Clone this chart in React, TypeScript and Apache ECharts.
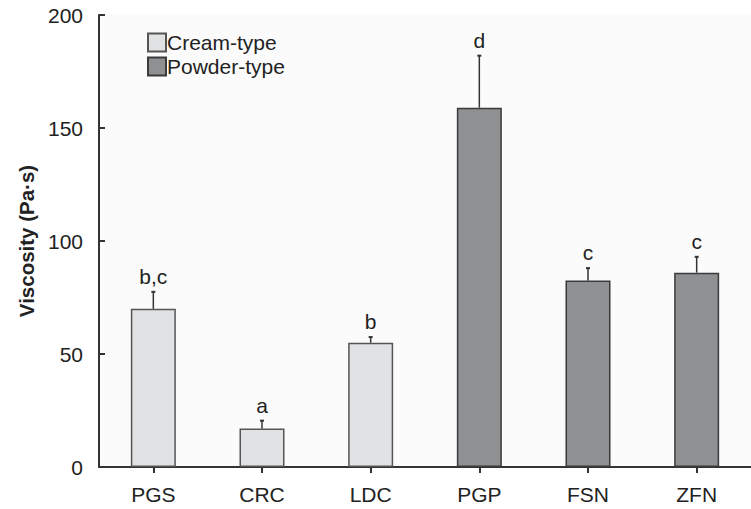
import React, { useEffect, useRef } from "react";
import * as echarts from "echarts";

const categories = ["PGS", "CRC", "LDC", "PGP", "FSN", "ZFN"];
const creamValues = [70, 17, 55, null, null, null];
const powderValues = [null, null, null, 159, 82.5, 86];
const errorTops = [77.5, 20.5, 57.5, 182, 88, 93];
const letters = ["b,c", "a", "b", "d", "c", "c"];
const yTicks = [0, 50, 100, 150, 200];

const FONT = '"Liberation Sans", Arial, Helvetica, sans-serif';

export default function App() {
  const ref = useRef<HTMLDivElement>(null);

  useEffect(() => {
    if (!ref.current) return;
    const chart = echarts.init(ref.current, null, { renderer: "svg" });
    const means = categories.map((_, i) => (creamValues[i] ?? powderValues[i]) as number);
    const errData = categories.map((_, i) => [i, means[i], errorTops[i]]);

    chart.setOption({
      animation: false,
      backgroundColor: "#ffffff",
      textStyle: { fontFamily: FONT },
      grid: {
        left: 99,
        top: 15,
        width: 663,
        height: 452,
        show: true,
        backgroundColor: "#fbfbfb",
        borderWidth: 0,
      },
      legend: {
        left: 142,
        top: 27,
        orient: "vertical",
        icon: "rect",
        itemWidth: 18,
        itemHeight: 18,
        itemGap: 3,
        textStyle: {
          fontSize: 21,
          lineHeight: 19,
          color: "#222",
          fontFamily: FONT,
          padding: [0, 0, 0, -4],
        },
        data: ["Cream-type", "Powder-type"],
      },
      xAxis: {
        type: "category",
        data: categories,
        boundaryGap: true,
        axisLine: { lineStyle: { color: "#333", width: 2 } },
        axisTick: { show: true, alignWithLabel: true, length: 6, lineStyle: { color: "#333", width: 2 } },
        axisLabel: { color: "#222", fontSize: 21, margin: 17, fontFamily: FONT },
      },
      yAxis: {
        type: "value",
        min: yTicks[0],
        max: yTicks[yTicks.length - 1],
        interval: 50,
        name: "Viscosity (Pa·s)",
        nameLocation: "middle",
        nameGap: 60,
        nameTextStyle: { fontSize: 20.5, fontWeight: "bold", color: "#222", fontFamily: FONT },
        axisLine: { show: true, lineStyle: { color: "#333", width: 2 } },
        axisTick: { show: true, inside: true, length: 6, lineStyle: { color: "#333", width: 2 } },
        axisLabel: { color: "#222", fontSize: 21, margin: 16, fontFamily: FONT },
        splitLine: { show: false },
      },
      series: [
        {
          name: "Cream-type",
          type: "bar",
          stack: "all",
          barWidth: 45,
          data: creamValues,
          itemStyle: { color: "#e1e2e3", borderColor: "#555", borderWidth: 1.5 },
        },
        {
          name: "Powder-type",
          type: "bar",
          stack: "all",
          barWidth: 45,
          data: powderValues,
          itemStyle: { color: "#8f9092", borderColor: "#3a3a3a", borderWidth: 1.5 },
        },
        {
          name: "err",
          type: "custom",
          z: 5,
          data: errData,
          renderItem: (params: any, api: any) => {
            const i = params.dataIndex;
            const base = api.coord([api.value(0), api.value(1)]);
            const top = api.coord([api.value(0), api.value(2)]);
            return {
              type: "group",
              children: [
                {
                  type: "line",
                  shape: { x1: base[0], y1: base[1], x2: top[0], y2: top[1] },
                  style: { stroke: "#333", lineWidth: 1.5 },
                },
                {
                  type: "line",
                  shape: { x1: top[0] - 2, y1: top[1], x2: top[0] + 2, y2: top[1] },
                  style: { stroke: "#333", lineWidth: 2 },
                },
                {
                  type: "text",
                  x: top[0],
                  y: top[1] - 5,
                  style: {
                    text: letters[i],
                    fill: "#222",
                    fontSize: 21,
                    fontFamily: FONT,
                    align: "center",
                    verticalAlign: "bottom",
                  },
                },
              ],
            };
          },
        },
      ],
    });
    return () => chart.dispose();
  }, []);

  return (
    <div
      ref={ref}
      style={{ position: "fixed", left: 0, top: 0, width: 751, height: 509, background: "#fff" }}
    />
  );
}
